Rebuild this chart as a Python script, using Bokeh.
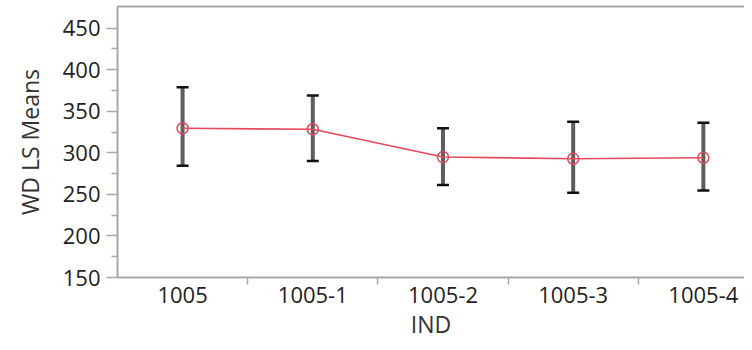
from bokeh.plotting import figure
from bokeh.models import (Range1d, FixedTicker, LinearAxis, Whisker, TeeHead,
                          ColumnDataSource)
from bokeh.embed import file_html
from bokeh.resources import INLINE

categories = ["1005", "1005-1", "1005-2", "1005-3", "1005-4"]
means = [329.5, 328.3, 294.9, 292.9, 294.1]
lower = [284.3, 290.2, 261.4, 252.0, 254.8]
upper = [378.8, 368.9, 329.5, 337.4, 336.2]
y_ticks = [150, 200, 250, 300, 350, 400, 450]
y_minor = [175, 225, 275, 325, 375, 425]

x = list(range(len(categories)))
src = ColumnDataSource(dict(x=x, y=means, lo=lower, hi=upper))

FONT = "Open Sans"
AX = "#a8a8a8"

p = figure(width=744, height=342, output_backend="svg", toolbar_location=None,
           x_range=Range1d(-0.5, 4.316), y_range=Range1d(150, 476),
           min_border_left=117, min_border_top=6, min_border_right=0,
           min_border_bottom=0, background_fill_color="white",
           border_fill_color="white", outline_line_color=None)
p.grid.visible = False

# x axis
xa = p.xaxis[0]
xa.ticker = FixedTicker(ticks=x, minor_ticks=[i + 0.5 for i in x[:-1]])
xa.major_label_overrides = {i: c for i, c in zip(x, categories)}
xa.major_tick_line_color = None
xa.major_tick_out = 0
xa.major_tick_in = 0
xa.minor_tick_line_color = AX
xa.minor_tick_line_width = 1.5
xa.minor_tick_out = 7
xa.minor_tick_in = 0
xa.axis_line_color = AX
xa.axis_line_width = 2
xa.major_label_standoff = 2
xa.major_label_text_font = FONT
xa.major_label_text_font_size = "22px"
xa.major_label_text_color = "#222222"
xa.axis_label = "IND"
xa.axis_label_text_font = FONT
xa.axis_label_text_font_size = "23px"
xa.axis_label_text_font_style = "normal"
xa.axis_label_text_color = "#333333"
xa.axis_label_standoff = 2

# y axis
ya = p.yaxis[0]
ya.ticker = FixedTicker(ticks=y_ticks, minor_ticks=y_minor)
ya.major_tick_line_color = AX
ya.major_tick_line_width = 1.5
ya.major_tick_out = 11
ya.major_tick_in = 0
ya.minor_tick_line_color = AX
ya.minor_tick_line_width = 1.5
ya.minor_tick_out = 6
ya.minor_tick_in = 0
ya.axis_line_color = AX
ya.axis_line_width = 2
ya.major_label_standoff = 6
ya.major_label_text_font = FONT
ya.major_label_text_font_size = "22px"
ya.major_label_text_color = "#222222"
ya.axis_label = "WD LS Means"
ya.axis_label_text_font = FONT
ya.axis_label_text_font_size = "23px"
ya.axis_label_text_font_style = "normal"
ya.axis_label_text_color = "#333333"
ya.axis_label_standoff = 14

# top border
top = LinearAxis(ticker=FixedTicker(ticks=[]), axis_line_color=AX,
                 axis_line_width=2, major_label_text_font_size="0px",
                 major_tick_line_color=None, minor_tick_line_color=None,
                 major_tick_out=0, minor_tick_out=0, major_label_standoff=0)
p.add_layout(top, "above")

# error bars
w = Whisker(source=src, base="x", lower="lo", upper="hi",
            line_color="#5e5e5e", line_width=4,
            upper_head=TeeHead(size=12, line_color="#111111", line_width=2.5),
            lower_head=TeeHead(size=12, line_color="#111111", line_width=2.5))
p.add_layout(w)

RED = "#e4495c"
p.line("x", "y", source=src, line_color=RED, line_width=1.6)
p.scatter("x", "y", source=src, marker="circle", size=11, fill_color=None,
          line_color=RED, line_width=1.5)

open("out.html", "w").write(file_html(p, INLINE))
